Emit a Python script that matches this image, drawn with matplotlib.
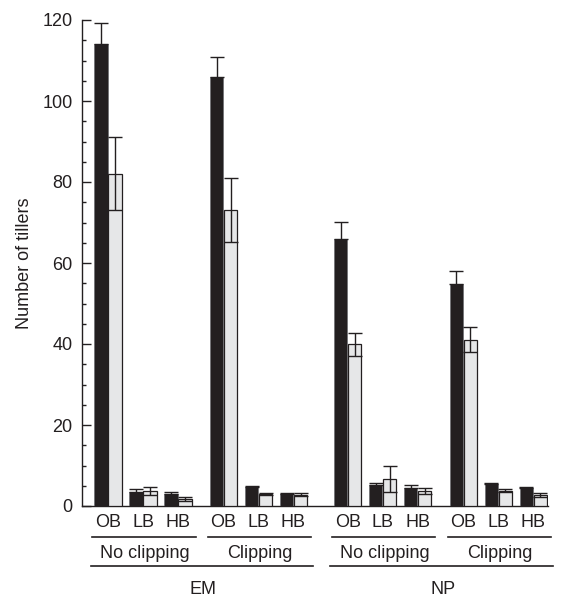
import matplotlib
matplotlib.use('Agg')
import matplotlib.pyplot as plt
import numpy as np
from matplotlib.transforms import blended_transform_factory
from matplotlib.ticker import MultipleLocator

plt.rcParams['font.family'] = ['Liberation Sans', 'DejaVu Sans']

# ---- data ----
sites = ['EM', 'NP']
treatments = ['No clipping', 'Clipping']
tiller_types = ['OB', 'LB', 'HB']

# groups in order: EM/No clipping, EM/Clipping, NP/No clipping, NP/Clipping
dark_means = [[114.0, 3.5, 3.0], [106.0, 4.6, 3.0], [66.0, 5.1, 4.4], [54.8, 5.5, 4.5]]
dark_err = [[5.3, 0.6, 0.4], [4.9, 0.3, 0.2], [4.1, 0.5, 0.7], [3.2, 0.3, 0.3]]
light_means = [[82.0, 3.7, 1.8], [73.1, 3.0, 2.8], [39.9, 6.7, 3.7], [41.1, 3.8, 2.7]]
light_err = [[9.0, 0.95, 0.45], [7.8, 0.3, 0.3], [2.9, 3.25, 0.7], [3.0, 0.4, 0.4]]

# ---- layout ----
group_starts = [0.0, 3.3, 6.85, 10.15]
bar_w = 0.38
off = 0.2
dark_c = '#231f20'
light_c = '#e6e7e8'

fig = plt.figure(figsize=(5.61, 6.0), dpi=100)
ax = fig.add_axes([82 / 561, 1 - 506 / 600, (548 - 82) / 561, 486 / 600])

xs_all, labels_all = [], []
for g, gs in enumerate(group_starts):
    xs = np.array([gs + i for i in range(len(tiller_types))])
    ax.bar(xs - off, dark_means[g], width=bar_w, color=dark_c, edgecolor='#6d6e71',
           linewidth=0.5, zorder=3)
    ax.bar(xs + off, light_means[g], width=bar_w, color=light_c, edgecolor=dark_c,
           linewidth=0.9, zorder=3)
    derr = np.array(dark_err[g])
    ax.errorbar(xs - off, dark_means[g], yerr=[np.zeros_like(derr), derr], fmt='none',
                ecolor=dark_c, elinewidth=1.0, capsize=5, capthick=1.0, zorder=4)
    ax.errorbar(xs + off, light_means[g], yerr=light_err[g], fmt='none', ecolor=dark_c,
                elinewidth=1.0, capsize=5, capthick=1.0, zorder=4)
    xs_all.extend(xs)
    labels_all.extend(tiller_types)

ax.set_xlim((82 - 108) / 35, (548 - 108) / 35)
ax.set_ylim(0, 120)
ax.spines['top'].set_visible(False)
ax.spines['right'].set_visible(False)
ax.spines['left'].set_linewidth(1.0)
ax.spines['bottom'].set_linewidth(1.0)
ax.spines['left'].set_color(dark_c)
ax.spines['bottom'].set_color(dark_c)

ax.set_xticks(xs_all)
ax.set_xticklabels(labels_all, fontsize=13, color=dark_c)
ax.tick_params(axis='x', length=0, pad=6)

ax.yaxis.set_major_locator(MultipleLocator(20))
ax.yaxis.set_minor_locator(MultipleLocator(5))
ax.tick_params(axis='y', which='major', direction='in', length=6.5, width=1.0,
               labelsize=13, pad=6.7, colors=dark_c)
ax.tick_params(axis='y', which='minor', direction='in', length=3, width=1.0, colors=dark_c)
ax.set_ylabel('Number of tillers', fontsize=13, labelpad=7, color=dark_c)

tr = blended_transform_factory(ax.transData, fig.transFigure)

def fy(py):
    return 1 - py / 600

# treatment lines and labels
for g, gs in enumerate(group_starts):
    x0, x1 = gs - 0.45, gs + 2 + 0.5
    ax.plot([x0, x1], [fy(537), fy(537)], transform=tr, color=dark_c, lw=1.2,
            clip_on=False)
    ax.text((gs + gs + 2) / 2 + 0.05, fy(553), treatments[g % 2], transform=tr,
            ha='center', va='center', fontsize=13, color=dark_c)

# site lines and labels
for s, site in enumerate(sites):
    a = group_starts[2 * s]
    b = group_starts[2 * s + 1]
    x0, x1 = a - 0.5, b + 2 + 0.55
    ax.plot([x0, x1], [fy(566), fy(566)], transform=tr, color=dark_c, lw=1.2,
            clip_on=False)
    ax.text((x0 + x1) / 2 + 0.05, fy(590), site, transform=tr, ha='center',
            va='center', fontsize=13, color=dark_c)

fig.savefig('out.png', dpi=100)
